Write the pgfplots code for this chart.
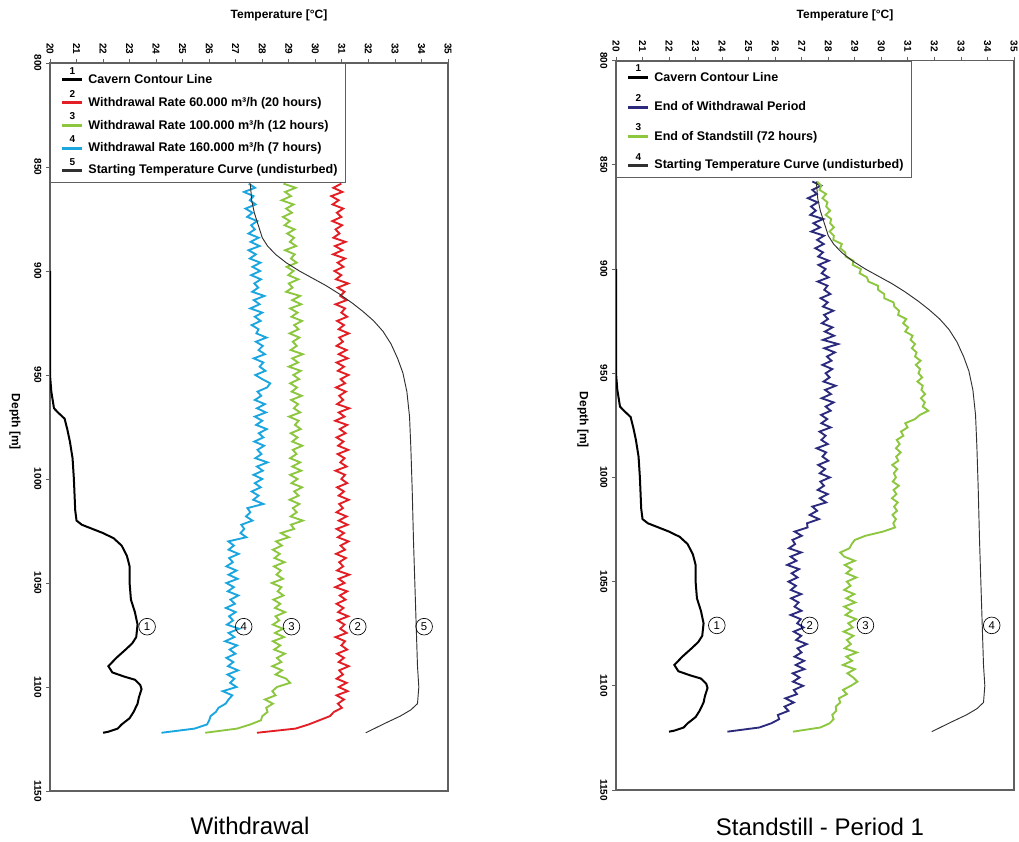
\documentclass[border=0pt]{standalone}
\usepackage{fontspec}
\setmainfont{Liberation Sans}
\usepackage{pgfplots}
\usepackage{pgfplotstable}
\pgfplotsset{compat=1.18}
\definecolor{cred}{HTML}{E31E24}
\definecolor{cgreen}{HTML}{8DC63F}
\definecolor{ccyan}{HTML}{1CA6DF}
\definecolor{cnavy}{HTML}{2B2A7C}
\definecolor{axgray}{HTML}{606060}
\definecolor{startgray}{HTML}{303030}

\pgfplotstableread{
d r g b
858 30.98 28.80 27.49
860 30.68 29.26 27.73
862 31.02 28.86 27.31
864 30.60 29.08 27.67
866 30.88 28.73 27.53
868 30.65 29.18 27.75
870 31.05 28.90 27.37
872 30.81 29.12 27.63
874 30.98 28.78 27.43
876 30.64 29.04 27.81
878 31.01 28.84 27.58
880 30.76 29.22 27.72
882 30.91 28.94 27.48
884 30.68 29.20 27.86
886 31.14 29.04 27.56
888 30.74 29.28 27.90
890 31.02 28.86 27.48
892 30.67 29.22 27.76
894 31.12 29.08 27.53
896 30.84 29.30 27.93
898 31.06 28.92 27.63
900 30.72 29.18 27.92
902 30.98 28.98 27.58
904 30.78 29.36 27.95
906 31.24 29.00 27.70
908 30.84 29.14 27.85
910 31.10 28.90 27.62
912 30.94 29.43 28.08
914 31.18 29.13 27.68
916 30.76 29.47 27.90
918 31.12 29.05 27.55
920 30.98 29.33 28.00
922 31.20 29.10 27.72
924 30.82 29.50 27.94
926 31.08 29.20 27.60
928 30.88 29.37 27.86
930 31.26 29.03 27.78
932 30.90 29.40 28.16
934 31.04 29.15 27.76
936 30.80 29.30 28.02
938 31.18 29.07 27.86
940 30.88 29.53 28.10
942 31.22 29.13 27.68
944 30.80 29.35 28.04
946 31.08 29.00 27.90
948 30.85 29.45 28.12
950 31.25 29.17 27.74
952 30.95 29.39 28.00
954 31.12 29.05 28.30
956 30.78 29.31 28.18
958 31.15 29.11 27.82
960 30.90 29.49 27.96
962 31.05 29.09 27.72
964 30.82 29.35 28.10
966 31.28 29.19 27.80
968 30.88 29.43 28.14
970 31.10 29.01 27.72
972 30.75 29.37 28.00
974 31.20 29.23 27.77
976 30.92 29.45 28.17
978 31.14 29.07 27.87
980 30.80 29.33 28.04
982 31.06 29.13 27.70
984 30.86 29.51 28.07
986 31.24 29.15 27.82
988 30.84 29.29 27.97
990 31.10 29.05 27.74
992 30.94 29.43 28.20
994 31.18 29.13 27.80
996 30.76 29.47 28.02
998 31.12 29.05 27.67
1000 30.98 29.33 28.00
1002 31.20 29.10 27.72
1004 30.82 29.50 27.94
1006 31.08 29.20 27.60
1008 30.88 29.37 27.86
1010 31.26 29.03 27.66
1012 30.90 29.40 28.04
1014 31.04 29.15 27.44
1016 30.80 29.30 27.55
1018 31.18 29.07 27.39
1020 30.88 29.53 27.63
1022 31.22 29.08 27.21
1024 30.80 29.20 27.32
1026 31.08 28.70 27.18
1028 30.85 29.00 27.40
1030 31.25 28.52 26.72
1032 30.95 28.74 26.93
1034 31.12 28.40 26.73
1036 30.78 28.66 27.11
1038 31.15 28.46 26.75
1040 30.90 28.84 26.89
1042 31.05 28.44 26.65
1044 30.82 28.70 27.03
1046 31.28 28.54 26.73
1048 30.88 28.78 27.07
1050 31.10 28.36 26.65
1052 30.75 28.72 26.93
1054 31.20 28.58 26.70
1056 30.92 28.80 27.10
1058 31.14 28.42 26.80
1060 30.80 28.68 26.97
1062 31.06 28.48 26.63
1064 30.86 28.86 27.00
1066 31.24 28.50 26.75
1068 30.84 28.64 26.90
1070 31.10 28.40 26.67
1072 30.94 28.78 27.13
1074 31.18 28.48 26.73
1076 30.76 28.82 26.95
1078 31.12 28.40 26.60
1080 30.98 28.68 27.05
1082 31.20 28.45 26.77
1084 30.82 28.85 26.99
1086 31.08 28.55 26.65
1088 30.88 28.72 26.91
1090 31.26 28.38 26.71
1092 30.90 28.75 27.09
1094 31.04 28.50 26.69
1096 30.80 28.90 26.95
1098 31.18 29.05 26.79
1100 30.88 28.55 27.03
1102 31.22 28.38 26.51
1104 30.80 28.50 26.87
1106 31.08 28.10 26.73
1108 30.85 28.40 26.62
1110 31.00 28.15 26.35
1112 30.70 28.20 26.25
1114 30.55 28.00 26.05
1116 30.15 27.95 26.00
1118 29.75 27.55 25.92
1120 29.25 27.05 25.45
1122 27.80 25.85 24.20
}\lefttab

\pgfplotstableread{
d n g
858 27.40 27.58
860 27.73 27.73
862 27.40 27.67
864 27.57 27.92
866 27.23 27.78
868 27.60 27.97
870 27.35 27.92
872 27.53 28.07
874 27.32 27.90
876 27.81 28.11
878 27.44 28.07
880 27.69 28.21
882 27.36 28.05
884 27.84 28.21
886 27.58 28.19
888 27.83 28.51
890 27.51 28.45
892 27.80 28.64
894 27.62 28.65
896 28.02 28.95
898 27.63 28.92
900 27.90 29.23
902 27.75 29.18
904 28.01 29.46
906 27.60 29.51
908 27.97 29.87
910 27.85 29.88
912 28.08 30.11
914 27.71 30.11
916 27.98 30.46
918 27.80 30.49
920 28.19 30.67
922 27.84 30.63
924 27.99 30.94
926 27.76 30.82
928 28.16 31.01
930 27.87 30.90
932 28.22 31.18
934 27.80 31.10
936 28.37 31.27
938 27.85 31.15
940 28.25 31.33
942 27.95 31.27
944 28.12 31.48
946 27.78 31.30
948 28.15 31.46
950 27.90 31.40
952 28.05 31.54
954 27.82 31.36
956 28.28 31.56
958 27.88 31.51
960 28.10 31.65
962 27.75 31.49
964 28.20 31.64
966 27.90 31.56
968 28.09 31.77
970 27.73 31.45
972 27.96 31.27
974 27.74 30.90
976 28.09 30.99
978 27.67 30.74
980 27.90 30.83
982 27.74 30.58
984 27.98 30.69
986 27.56 30.55
988 27.92 30.73
990 27.78 30.56
992 28.00 30.64
994 27.62 30.41
996 27.88 30.60
998 27.68 30.47
1000 28.06 30.55
1002 27.70 30.43
1004 27.84 30.66
1006 27.60 30.46
1008 27.98 30.57
1010 27.68 30.40
1012 27.92 30.62
1014 27.40 30.48
1016 27.58 30.59
1018 27.30 30.42
1020 27.65 30.55
1022 27.20 30.45
1024 27.22 30.52
1026 26.73 30.06
1028 27.00 29.40
1030 26.65 29.00
1032 26.75 28.88
1034 26.52 28.80
1036 26.98 28.45
1038 26.58 28.60
1040 26.80 29.00
1042 26.45 28.62
1044 26.90 28.88
1046 26.62 28.68
1048 26.84 29.06
1050 26.50 28.70
1052 26.78 28.84
1054 26.59 28.60
1056 26.98 28.98
1058 26.60 28.68
1060 26.88 29.02
1062 26.73 28.60
1064 26.99 28.88
1066 26.58 28.65
1068 26.96 29.05
1070 26.83 28.75
1072 27.07 28.92
1074 26.70 28.58
1076 26.98 28.95
1078 26.79 28.70
1080 27.19 28.85
1082 26.84 28.62
1084 26.99 29.08
1086 26.73 28.68
1088 27.09 28.90
1090 26.77 28.55
1092 27.10 29.00
1094 26.66 28.72
1096 26.92 28.94
1098 26.67 29.10
1100 27.05 28.85
1102 26.70 28.55
1104 26.82 28.70
1106 26.38 28.40
1108 26.70 28.45
1110 26.35 28.28
1112 26.50 28.30
1114 26.10 28.15
1116 26.15 28.20
1118 25.85 28.05
1120 25.40 27.70
1122 24.20 26.67
}\righttab

\pgfplotstableread{
T d
20.00 900
20.00 950
20.05 958
20.10 962
20.15 966
20.30 968
20.55 971
20.65 976
20.75 982
20.85 990
20.90 1000
20.95 1015
21.00 1020
21.20 1022
21.60 1024
22.00 1026
22.40 1028.5
22.70 1032
22.90 1037
23.00 1042
23.00 1050
23.05 1058
23.20 1064
23.30 1070
23.25 1076
23.10 1079
22.85 1082
22.50 1086
22.20 1090
22.35 1093
22.80 1095
23.20 1096.5
23.40 1099
23.45 1101
23.35 1105
23.30 1108
23.15 1112
23.00 1115
22.70 1118
22.55 1120
22.20 1121.5
22.00 1122
}\contourtab

\pgfplotstableread{
T d
27.55 858
27.60 866
27.70 872
27.85 878
28.00 884
28.20 888
28.50 892
28.90 896
29.40 900
29.90 903.5
30.40 907
30.90 911
31.40 915.5
31.80 919.5
32.20 924
32.55 929
32.85 935
33.10 942
33.30 949
33.45 958
33.55 970
33.60 985
33.65 1005
33.70 1030
33.75 1050
33.80 1070
33.85 1090
33.90 1100
33.85 1108
33.60 1111
33.20 1114
32.70 1117
32.30 1119.5
31.90 1122
}\starttab

\pgfplotsset{
  numleg/.style={legend image code/.code={
      \path[draw=none,fill=none] (-5pt,0pt) rectangle (17.5pt,0pt);
      \draw[##1, line width=2.2pt] (0pt,0pt) -- (15pt,0pt);
      \node[font=\bfseries\fontsize{7.5}{7.5}\selectfont, inner sep=0pt, anchor=south, text=black] at (7.5pt,2pt) {#1};}},
  myaxis/.style={
    scale only axis, width=298.5pt,
    xmin=20, xmax=35, ymin=800, ymax=1150, y dir=reverse,
    xtick={20,...,35}, ytick={800,850,...,1150},
    xtick pos=right, ytick pos=left, xticklabel pos=right,
    tick align=outside, major tick length=3pt,
    axis line style={axgray, line width=0.8pt},
    tick style={axgray, line width=0.6pt},
    /pgf/number format/assume math mode=true,
    /pgf/number format/1000 sep={},
    ticklabel style={font=\bfseries\fontsize{7.5}{8}\selectfont},
    xticklabel style={rotate=-90, anchor=east},
    yticklabel style={rotate=-90, anchor=north},
    legend cell align=left,
    legend style={at={(0,1)}, anchor=north west, draw=axgray, line width=0.6pt,
      fill=white, font=\bfseries\fontsize{9.4}{11}\selectfont,
      inner xsep=4pt, inner ysep=3pt},
  },
}
\tikzset{
  circ/.style={draw=black, circle, inner sep=0pt, minimum size=12.5pt, line width=0.5pt,
    font=\fontsize{8.5}{8.5}\selectfont},
}

\begin{document}
\begin{tikzpicture}
\path[use as bounding box] (0pt,0pt) rectangle (764.25pt,630.75pt);

\begin{axis}[myaxis, height=546pt, at={(37.5pt,37.5pt)}, anchor=south west,
  legend style={row sep=1.5pt}]
  \addplot[black, line width=1.5pt, numleg=1] table[x=T, y=d] {\contourtab};
  \addlegendentry{Cavern Contour Line}
  \addplot[cred, line width=1.4pt, numleg=2] table[x=r, y=d] {\lefttab};
  \addlegendentry{Withdrawal Rate 60.000 m³/h (20 hours)}
  \addplot[cgreen, line width=1.4pt, numleg=3] table[x=g, y=d] {\lefttab};
  \addlegendentry{Withdrawal Rate 100.000 m³/h (12 hours)}
  \addplot[ccyan, line width=1.4pt, numleg=4] table[x=b, y=d] {\lefttab};
  \addlegendentry{Withdrawal Rate 160.000 m³/h (7 hours)}
  \addplot[startgray, line width=0.7pt, numleg=5] table[x=T, y=d] {\starttab};
  \addlegendentry{Starting Temperature Curve (undisturbed)}
  \node[circ] at (axis cs:23.66,1071) {1};
  \node[circ] at (axis cs:27.3,1071) {4};
  \node[circ] at (axis cs:29.1,1071) {3};
  \node[circ] at (axis cs:31.6,1071) {2};
  \node[circ] at (axis cs:34.1,1071) {5};
\end{axis}

\begin{axis}[myaxis, height=547pt, at={(462pt,38.25pt)}, anchor=south west,
  legend style={row sep=6.5pt}]
  \addplot[black, line width=1.5pt, numleg=1] table[x=T, y=d] {\contourtab};
  \addlegendentry{Cavern Contour Line}
  \addplot[cnavy, line width=1.4pt, numleg=2] table[x=n, y=d] {\righttab};
  \addlegendentry{End of Withdrawal Period}
  \addplot[cgreen, line width=1.4pt, numleg=3] table[x=g, y=d] {\righttab};
  \addlegendentry{End of Standstill (72 hours)}
  \addplot[startgray, line width=0.7pt, numleg=4] table[x=T, y=d] {\starttab};
  \addlegendentry{Starting Temperature Curve (undisturbed)}
  \node[circ] at (axis cs:23.8,1071) {1};
  \node[circ] at (axis cs:27.3,1071) {2};
  \node[circ] at (axis cs:29.4,1071) {3};
  \node[circ] at (axis cs:34.16,1071) {4};
\end{axis}

\node[font=\bfseries\fontsize{9}{10}\selectfont] at (209.25pt,619.5pt) {Temperature [°C]};
\node[font=\bfseries\fontsize{9}{10}\selectfont] at (633.75pt,619.5pt) {Temperature [°C]};
\node[font=\bfseries\fontsize{9}{10}\selectfont, rotate=-90] at (11.25pt,314.25pt) {Depth [m]};
\node[font=\bfseries\fontsize{9}{10}\selectfont, rotate=-90] at (437.25pt,315.75pt) {Depth [m]};
\node[font=\fontsize{18}{20}\selectfont] at (187.5pt,11.25pt) {Withdrawal};
\node[font=\fontsize{18}{20}\selectfont] at (615pt,10.5pt) {Standstill - Period 1};
\end{tikzpicture}
\end{document}
